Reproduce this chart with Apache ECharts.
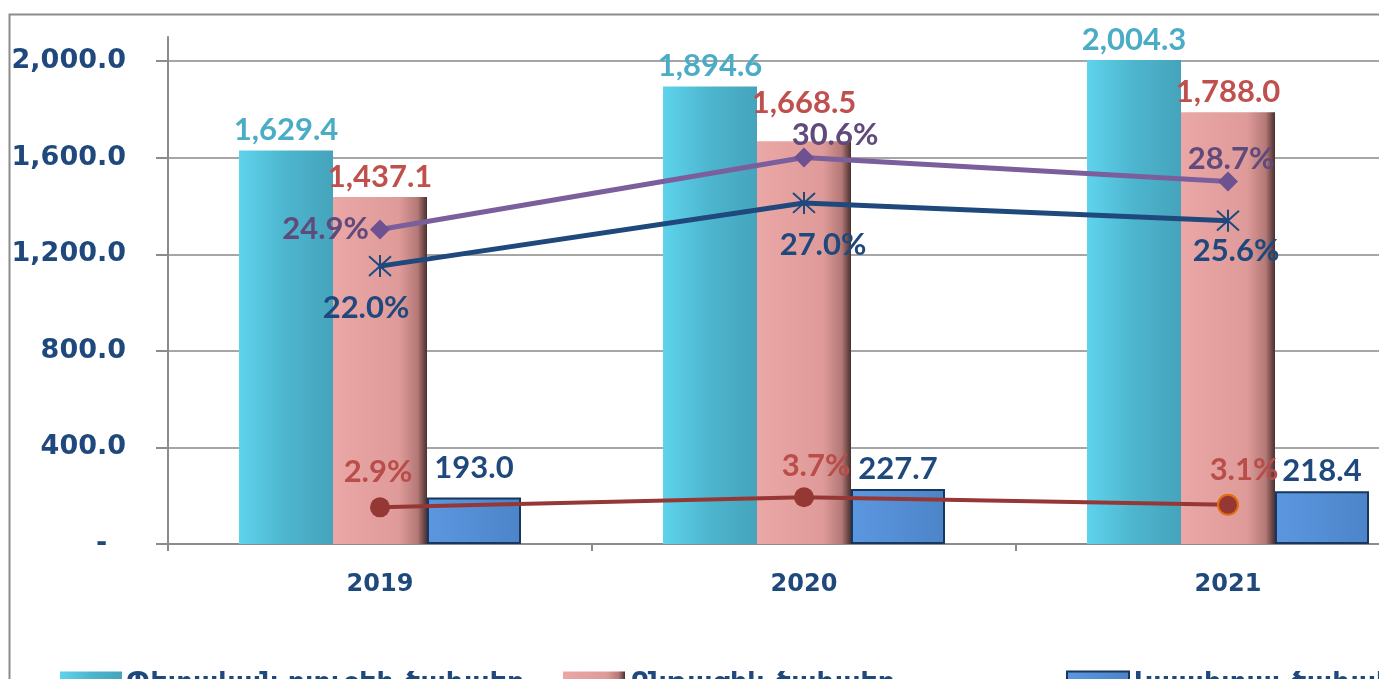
<!DOCTYPE html>
<html lang="hy">
<head>
<meta charset="utf-8" />
<title>Ծախսեր</title>
<script src="https://cdn.jsdelivr.net/npm/echarts@6/dist/echarts.min.js"></script>
<style>
  html, body { margin: 0; padding: 0; background: #fff; }
  #main { width: 1379px; height: 679px; }
</style>
</head>
<body>
<div id="main"></div>
<script type="text/javascript">
// data
var years = ['2019', '2020', '2021'];
var totalExp = [1629.4, 1894.6, 2004.3];
var currentExp = [1437.1, 1668.5, 1788.0];
var capitalExp = [193.0, 227.7, 218.4];
var shareTotal = [24.9, 30.6, 28.7];
var shareCurrent = [22.0, 27.0, 25.6];
var shareCapital = [2.9, 3.7, 3.1];
var legendNames = ['Պետական բյուջեի ծախսեր', 'Ընթացիկ ծախսեր', 'Կապիտալ ծախսեր'];

var font = 'Lato, "DejaVu Sans", sans-serif';
var axisFont = '"DejaVu Sans", sans-serif';
var chart = echarts.init(document.getElementById('main'));

function fmt1(v) {
    return v.toLocaleString('en-US', { minimumFractionDigits: 1, maximumFractionDigits: 1 });
}
function grad(stops) {
    return new echarts.graphic.LinearGradient(0, 0, 1, 0, stops);
}
function barLabel(color) {
    return { show: true, position: 'top', distance: 5, color: color, fontSize: 31,
             fontWeight: 'bold', fontFamily: font, formatter: function (p) { return fmt1(p.value); } };
}
function pctLabel(color) {
    return { show: true, color: color, fontSize: 31, fontWeight: 'bold',
             fontFamily: font, formatter: function (p) { return p.value.toFixed(1) + '%'; } };
}
// per point label placement (position, [dx, dy])
function placed(values, places) {
    return values.map(function (v, i) {
        return { value: v, label: { position: places[i][0], offset: places[i][1] } };
    });
}
function legendAt(x, name) {
    return { left: x, top: 665, icon: 'rect', itemWidth: 62, itemHeight: 24, itemGap: 20,
             data: [name],
             textStyle: { color: '#1F497D', fontSize: 27, fontWeight: 'bold', fontFamily: axisFont } };
}

var currentData = currentExp.map(function (v, i) {
    return i === 1 ? { value: v, label: { offset: [0, -18] } } : v;
});
var capitalData = capitalExp.map(function (v, i) {
    return i === 0 ? { value: v, label: { offset: [0, -9] } } : v;
});
var capShareData = placed(shareCapital, [['top', [-2, -5]], ['top', [12, -1]], ['top', [16, -3]]]);
capShareData[2].itemStyle = { borderColor: '#E46C0A', borderWidth: 2 };

var option = {
    animation: false,
    graphic: [{
        type: 'rect', left: 7, top: 12, z: -10,
        shape: { width: 1450, height: 720 },
        style: { fill: 'none', stroke: '#8c8c8c', lineWidth: 2 }
    }],
    legend: [legendAt(55, legendNames[0]), legendAt(558, legendNames[1]), legendAt(1061, legendNames[2])],
    grid: { left: 168, top: 37, width: 1272, height: 507, outerBoundsMode: 'none' },
    xAxis: {
        type: 'category', data: years,
        axisLine: { lineStyle: { color: '#8c8c8c', width: 2 } },
        axisTick: { show: true, length: 7, lineStyle: { color: '#8c8c8c', width: 2 } },
        axisLabel: { color: '#1F497D', fontSize: 24, fontWeight: 'bold', fontFamily: axisFont, margin: 29 }
    },
    yAxis: [{
        type: 'value', min: 0, max: 2100, interval: 400,
        axisLine: { show: true, lineStyle: { color: '#8c8c8c', width: 2 } },
        axisTick: { show: true, inside: false, length: 12, lineStyle: { color: '#8c8c8c', width: 2 } },
        splitLine: { show: true, showMaxLine: false, lineStyle: { color: '#a6a6a6', width: 2 } },
        axisLabel: {
            showMaxLabel: false, color: '#1F497D', fontSize: 27, fontWeight: 'bold', fontFamily: axisFont, margin: 42,
            formatter: function (v) { return v === 0 ? '-  ' : fmt1(v); }
        }
    }, {
        type: 'value', min: 0, max: 40.14, show: false, splitLine: { show: false }
    }],
    series: [{
        name: legendNames[0], type: 'bar', data: totalExp, barWidth: 94, barGap: '0%', z: 2,
        itemStyle: { color: grad([{ offset: 0, color: '#5fd3ec' }, { offset: 0.5, color: '#4db5ce' }, { offset: 1, color: '#45a4bc' }]) },
        label: barLabel('#4BACC6')
    }, {
        name: legendNames[1], type: 'bar', data: currentData, barWidth: 94, z: 2,
        itemStyle: { color: grad([{ offset: 0, color: '#eaa7a5' }, { offset: 0.7, color: '#df9b99' }, { offset: 0.9, color: '#b47977' }, { offset: 1, color: '#4a3030' }]) },
        label: barLabel('#C0504D')
    }, {
        name: legendNames[2], type: 'bar', data: capitalData, barWidth: 94, z: 2,
        itemStyle: { color: grad([{ offset: 0, color: '#5b97e0' }, { offset: 1, color: '#4d84c8' }]), borderColor: '#17375E', borderWidth: 2 },
        label: barLabel('#1F497D')
    }, {
        name: 'share_total', type: 'line', yAxisIndex: 1, z: 5,
        data: placed(shareTotal, [['left', [4, 0]], ['top', [31, 8]], ['top', [3, 8]]]),
        symbol: 'diamond', symbolSize: 20,
        lineStyle: { color: '#7b5f9d', width: 5 },
        itemStyle: { color: '#6d5191' },
        label: pctLabel('#604A7B')
    }, {
        name: 'share_current', type: 'line', yAxisIndex: 1, z: 5,
        data: placed(shareCurrent, [['bottom', [-14, 8]], ['bottom', [19, 8]], ['bottom', [8, -4]]]),
        symbol: 'path://M0,1L20,19M20,1L0,19M10,0L10,20', symbolSize: 22,
        lineStyle: { color: '#1F497D', width: 5 },
        itemStyle: { color: 'none', borderColor: '#1F497D', borderWidth: 2 },
        label: pctLabel('#1F497D')
    }, {
        name: 'share_capital', type: 'line', yAxisIndex: 1, z: 5,
        data: capShareData,
        symbol: 'circle', symbolSize: 20,
        lineStyle: { color: '#953735', width: 4 },
        itemStyle: { color: '#953735' },
        label: pctLabel('#B84D4A')
    }]
};
chart.setOption(option);
</script>
</body>
</html>
